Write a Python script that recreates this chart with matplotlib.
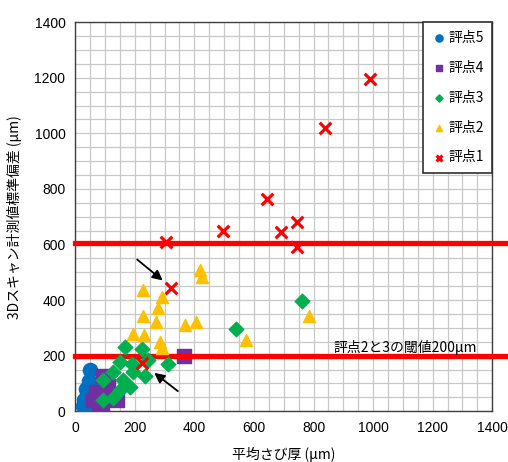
import matplotlib
matplotlib.use("Agg")
import matplotlib.pyplot as plt
from matplotlib.ticker import MultipleLocator
import matplotlib.transforms as mtransforms

plt.rcParams['font.family'] = ['Liberation Sans', 'Noto Sans CJK JP', 'DejaVu Sans']

# 評点5 (blue circles)
s5_x = [50, 45, 65, 40, 30, 55, 25, 45, 70, 35]
s5_y = [150, 110, 95, 60, 40, 30, 20, 10, 50, 80]
# 評点4 (purple squares)
s4_x = [95, 60, 80, 100, 125, 140, 110, 70, 90, 365]
s4_y = [125, 40, 20, 60, 45, 40, 90, 70, 15, 200]
# 評点3 (green diamonds)
s3_x = [167, 224, 151, 191, 244, 311, 127, 194, 234, 94, 161, 184, 151, 94, 127, 539, 760]
s3_y = [230, 223, 176, 169, 184, 169, 140, 140, 126, 112, 112, 86, 76, 40, 47, 295, 396]
# 評点2 (yellow triangles)
s2_x = [228, 291, 278, 228, 271, 368, 405, 419, 425, 573, 784, 194, 231, 285, 291]
s2_y = [435, 410, 371, 342, 320, 309, 320, 507, 482, 255, 342, 277, 273, 248, 227]
# 評点1 (red crosses)
s1_x = [990, 840, 645, 745, 690, 495, 745, 305, 320, 225]
s1_y = [1195, 1020, 765, 680, 645, 650, 590, 610, 445, 175]

upper_line = 605
lower_line = 198

fig = plt.figure(figsize=(5.08, 4.62), dpi=100)
ax = fig.add_axes([0.148, 0.110, 0.821, 0.842])

ax.set_xlim(0, 1400)
ax.set_ylim(0, 1400)
ax.xaxis.set_major_locator(MultipleLocator(200))
ax.yaxis.set_major_locator(MultipleLocator(200))
ax.xaxis.set_minor_locator(MultipleLocator(50))
ax.yaxis.set_minor_locator(MultipleLocator(50))
ax.grid(which='both', color='#c8c8c8', linewidth=0.9)
ax.set_axisbelow(True)
ax.tick_params(which='both', length=0, labelsize=10, pad=7)
for sp in ax.spines.values():
    sp.set_color('#404040')
    sp.set_linewidth(1.0)

ax.scatter(s5_x, s5_y, s=105, marker='o', color='#0070C0', label='評点5', zorder=3)
ax.scatter(s4_x, s4_y, s=95, marker='s', color='#7030A0', label='評点4', zorder=3)
ax.scatter(s3_x, s3_y, s=55, marker='D', color='#00B050', label='評点3', zorder=4)
ax.scatter(s2_x, s2_y, s=75, marker='^', color='#FFC000', label='評点2', zorder=4)
ax.scatter(s1_x, s1_y, s=70, marker='x', color='#FF0000', linewidths=2.3, label='評点1', zorder=5)

trans = mtransforms.blended_transform_factory(ax.transAxes, ax.transData)
for yv in (upper_line, lower_line):
    ax.plot([0, 1.05], [yv, yv], transform=trans, color='#FF0000', linewidth=3.8,
            clip_on=False, zorder=3)

ax.text(868, 230, '評点2と3の閾値200μm', fontsize=10, ha='left', va='center',
        family=['Noto Sans CJK JP', 'DejaVu Sans'], zorder=6)

arrow_kw = dict(arrowstyle='-|>,head_length=0.6,head_width=0.3', color='black', lw=1.3)
ax.annotate('', xy=(301, 464), xytext=(201, 552), arrowprops=arrow_kw, zorder=6)
ax.annotate('', xy=(258, 144), xytext=(352, 66), arrowprops=arrow_kw, zorder=6)

leg = ax.legend(loc='upper right', borderaxespad=0, fancybox=False, edgecolor='#303030',
                framealpha=1, markerscale=0.5, labelspacing=1.15, handletextpad=0.2,
                handlelength=1.0, borderpad=0.6, prop={'family': ['Noto Sans CJK JP', 'DejaVu Sans'], 'size': 10})
leg.get_frame().set_linewidth(1.2)

ax.set_xlabel('平均さび厚 (μm)', fontsize=10, family=['Noto Sans CJK JP', 'DejaVu Sans'], labelpad=9)
ax.set_ylabel('3Dスキャン計測値標準偏差 (μm)', fontsize=10, family=['Noto Sans CJK JP', 'DejaVu Sans'], labelpad=9)

fig.savefig('out.png', dpi=100)
